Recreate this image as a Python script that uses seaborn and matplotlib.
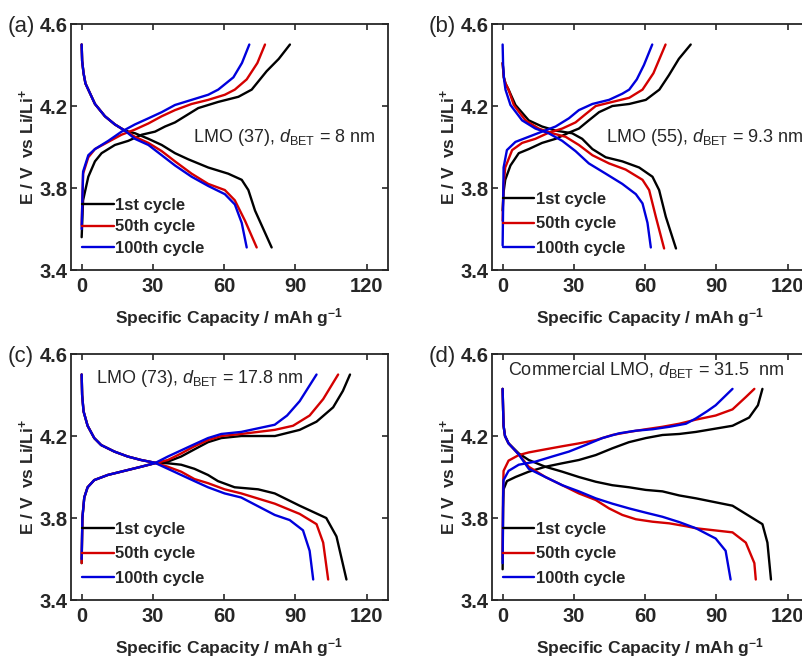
import seaborn as sns
import matplotlib.pyplot as plt
import pandas as pd
import numpy as np

# ---- data (capacity in mAh/g, potential in V) ----
cycles = ['1st cycle', '50th cycle', '100th cycle']
colors = ['#000000', '#d40000', '#0000dc']
panel_tags = ['(a)', '(b)', '(c)', '(d)']
panel_notes = [r'LMO (37), $d_{\rm BET}$ = 8 nm',
               r'LMO (55), $d_{\rm BET}$ = 9.3 nm',
               r'LMO (73), $d_{\rm BET}$ = 17.8 nm',
               r'Commercial LMO, $d_{\rm BET}$ = 31.5  nm']
x_ticks = [0, 30, 60, 90, 120]
y_ticks = [3.4, 3.8, 4.2, 4.6]

# panel (a)
a1_chg_q = [0, 0.6, 2.8, 5.6, 8.4, 14, 19.6, 25.3, 30.9, 35.1, 39.3, 43.5, 49.1, 57.5, 66, 71.6, 77.9, 83, 87.7]
a1_chg_v = [3.56, 3.74, 3.855, 3.93, 3.97, 4.01, 4.03, 4.06, 4.075, 4.10, 4.12, 4.15, 4.19, 4.22, 4.245, 4.28, 4.37, 4.43, 4.50]
a2_chg_q = [0, 0.6, 2.8, 5.6, 11.2, 16.8, 22.4, 28.1, 33.7, 39.3, 46.3, 53.3, 60.3, 64.5, 69.5, 74, 77.2]
a2_chg_v = [3.62, 3.87, 3.95, 3.99, 4.025, 4.06, 4.085, 4.115, 4.15, 4.18, 4.21, 4.23, 4.255, 4.28, 4.33, 4.41, 4.50]
a3_chg_q = [0, 0.6, 2.8, 5.6, 11.2, 16.8, 22.4, 28.1, 33.7, 39.3, 46.3, 53.3, 57.5, 63.9, 67.5, 70.6]
a3_chg_v = [3.60, 3.88, 3.96, 3.99, 4.03, 4.075, 4.11, 4.14, 4.17, 4.205, 4.23, 4.255, 4.28, 4.34, 4.41, 4.50]
a1_dis_q = [0, 0.2, 0.8, 1.6, 2.8, 5.6, 9.8, 14, 18.2, 22.5, 28.1, 33.7, 39.3, 44.9, 53.3, 61.7, 67.4, 70.2, 73, 80]
a1_dis_v = [4.50, 4.42, 4.36, 4.31, 4.28, 4.21, 4.15, 4.11, 4.08, 4.067, 4.04, 4.01, 3.97, 3.94, 3.90, 3.87, 3.84, 3.79, 3.69, 3.51]
a2_dis_q = [0, 0.2, 0.8, 1.6, 2.8, 5.6, 9.8, 14, 18.2, 22.4, 28.1, 33.7, 39.3, 46.3, 53.3, 60.3, 64.5, 68.8, 73.7]
a2_dis_v = [4.50, 4.42, 4.36, 4.31, 4.28, 4.21, 4.15, 4.11, 4.08, 4.05, 4.02, 3.98, 3.93, 3.87, 3.82, 3.79, 3.74, 3.64, 3.51]
a3_dis_q = [0, 0.2, 0.8, 1.6, 2.8, 5.6, 9.8, 14, 18.2, 22.4, 28.1, 33.7, 39.3, 46.3, 53.3, 60.3, 64.5, 67.4, 69.5]
a3_dis_v = [4.50, 4.42, 4.36, 4.31, 4.28, 4.21, 4.15, 4.11, 4.08, 4.04, 4.01, 3.96, 3.91, 3.855, 3.81, 3.77, 3.72, 3.63, 3.51]

# panel (b)
b1_chg_q = [0, 0.4, 1.1, 3.3, 6.8, 11, 16.6, 22.3, 27.9, 32.1, 36.3, 40.6, 46.2, 53.3, 60.3, 66, 70, 74.2, 79.2]
b1_chg_v = [3.69, 3.78, 3.84, 3.91, 3.97, 3.99, 4.02, 4.04, 4.07, 4.09, 4.13, 4.17, 4.20, 4.21, 4.23, 4.28, 4.35, 4.43, 4.50]
b2_chg_q = [0, 0.3, 1.1, 4, 8.2, 13.8, 19.4, 25.1, 30.7, 34.9, 39.2, 46.2, 53.3, 58.9, 63.5, 68.6]
b2_chg_v = [3.64, 3.80, 3.90, 3.985, 4.02, 4.04, 4.07, 4.09, 4.12, 4.16, 4.20, 4.22, 4.24, 4.28, 4.36, 4.50]
b3_chg_q = [0, 0.4, 1.8, 5.4, 11, 16.6, 22.3, 27.9, 32.1, 37.8, 44.8, 50.4, 53.3, 56.5, 59.5, 63]
b3_chg_v = [3.52, 3.90, 3.985, 4.025, 4.05, 4.075, 4.10, 4.14, 4.18, 4.21, 4.23, 4.26, 4.28, 4.33, 4.40, 4.50]
b1_dis_q = [0, 0.5, 1.2, 2.5, 5.4, 11, 16.6, 22.3, 29.3, 33.5, 37.8, 43.4, 50.4, 57.5, 63.1, 65.9, 68.7, 73]
b1_dis_v = [4.41, 4.34, 4.31, 4.28, 4.205, 4.13, 4.10, 4.08, 4.067, 4.04, 3.99, 3.95, 3.93, 3.90, 3.855, 3.79, 3.66, 3.505]
b2_dis_q = [0, 0.5, 1.2, 2.5, 4.7, 9.6, 15.2, 20.9, 26.5, 32.1, 37.8, 44.8, 51.8, 58.9, 61.7, 64.5, 68]
b2_dis_v = [4.41, 4.34, 4.31, 4.28, 4.205, 4.13, 4.09, 4.067, 4.05, 4.01, 3.96, 3.92, 3.89, 3.84, 3.79, 3.66, 3.505]
b3_dis_q = [0, 0.2, 0.6, 1.2, 3.3, 8.2, 13.8, 19.4, 25.1, 30.7, 36.3, 43.4, 50.4, 56.1, 58.9, 61, 62.4]
b3_dis_v = [4.50, 4.40, 4.33, 4.28, 4.205, 4.13, 4.09, 4.067, 4.03, 3.98, 3.92, 3.87, 3.82, 3.77, 3.725, 3.63, 3.51]

# panel (c)
c1_chg_q = [0, 0.3, 1.1, 2.5, 5.3, 11, 18, 25, 30.7, 36.3, 41.9, 47.5, 53.2, 58.8, 67.2, 81.4, 91.8, 98.9, 105.9, 110, 113]
c1_chg_v = [3.58, 3.80, 3.90, 3.95, 3.985, 4.01, 4.03, 4.05, 4.067, 4.075, 4.10, 4.135, 4.17, 4.19, 4.20, 4.20, 4.23, 4.27, 4.34, 4.42, 4.50]
c2_chg_q = [0, 0.3, 1.1, 2.5, 5.3, 11, 18, 25, 30.7, 36.3, 41.9, 47.5, 53.2, 58.8, 67.2, 81.3, 89, 96, 101.7, 108]
c2_chg_v = [3.58, 3.80, 3.90, 3.95, 3.985, 4.01, 4.03, 4.05, 4.067, 4.083, 4.115, 4.15, 4.18, 4.20, 4.21, 4.23, 4.25, 4.30, 4.38, 4.50]
c3_chg_q = [0, 0.3, 1.1, 2.5, 5.3, 11, 18, 25, 30.7, 36.3, 41.9, 47.5, 53.2, 58.8, 67.2, 81.3, 86.5, 91.8, 98.9]
c3_chg_v = [3.60, 3.80, 3.90, 3.95, 3.985, 4.01, 4.03, 4.05, 4.067, 4.10, 4.13, 4.16, 4.19, 4.21, 4.22, 4.255, 4.30, 4.37, 4.50]
c1_dis_q = [0, 0.2, 0.8, 2.5, 5.3, 8.2, 13.8, 19.4, 25, 30.7, 36.3, 41.9, 47.5, 53.2, 57.4, 64.4, 74.3, 81.3, 91.8, 103, 107.3, 111.5]
c1_dis_v = [4.50, 4.40, 4.32, 4.25, 4.19, 4.156, 4.124, 4.10, 4.083, 4.07, 4.067, 4.06, 4.04, 4.01, 3.98, 3.95, 3.94, 3.92, 3.86, 3.80, 3.71, 3.50]
c2_dis_q = [0, 0.2, 0.8, 2.5, 5.3, 8.2, 13.8, 19.4, 25, 30.7, 36.3, 41.9, 47.5, 53.2, 60.2, 67.2, 81.3, 91.8, 98.9, 101.7, 103.8]
c2_dis_v = [4.50, 4.40, 4.32, 4.25, 4.19, 4.156, 4.124, 4.10, 4.083, 4.07, 4.05, 4.026, 3.99, 3.97, 3.94, 3.92, 3.87, 3.82, 3.77, 3.68, 3.50]
c3_dis_q = [0, 0.2, 0.8, 2.5, 5.3, 8.2, 13.8, 19.4, 25, 30.7, 36.3, 41.9, 47.5, 53.2, 60.2, 67.2, 81.3, 87.6, 93.2, 96, 97.5]
c3_dis_v = [4.50, 4.40, 4.32, 4.25, 4.19, 4.156, 4.124, 4.10, 4.083, 4.07, 4.04, 4.01, 3.98, 3.95, 3.92, 3.90, 3.815, 3.79, 3.74, 3.64, 3.50]

# panel (d)
d1_chg_q = [0, 0.2, 0.4, 1.8, 5.4, 11, 18, 25.1, 32.1, 39.2, 46.2, 53.2, 60.3, 67.3, 74.4, 81.4, 96.8, 103.8, 107.5, 109.4]
d1_chg_v = [3.55, 3.85, 3.94, 3.98, 4.00, 4.026, 4.05, 4.067, 4.083, 4.107, 4.14, 4.17, 4.19, 4.205, 4.21, 4.22, 4.25, 4.29, 4.35, 4.43]
d2_chg_q = [0, 0.2, 0.4, 2.5, 6.8, 11, 18, 25.1, 32.1, 39.2, 46.2, 53.2, 60.3, 67.3, 74.4, 81.4, 89.7, 96.8, 102.4, 106]
d2_chg_v = [3.60, 3.95, 4.03, 4.08, 4.107, 4.12, 4.135, 4.15, 4.164, 4.18, 4.205, 4.22, 4.233, 4.245, 4.26, 4.28, 4.30, 4.33, 4.39, 4.43]
d3_chg_q = [0, 0.2, 0.4, 2.5, 6.8, 13.8, 20.9, 27.9, 34.9, 42, 49, 56.1, 63.1, 70.2, 77.2, 81.4, 86, 89.7, 96.8]
d3_chg_v = [3.58, 3.90, 3.985, 4.03, 4.06, 4.075, 4.10, 4.124, 4.156, 4.19, 4.213, 4.226, 4.233, 4.245, 4.26, 4.286, 4.32, 4.35, 4.43]
d1_dis_q = [0, 0.2, 0.4, 1, 2.5, 6.8, 11, 18, 25.1, 32.1, 39.2, 46.2, 53.2, 60.3, 67.3, 74.4, 81.4, 96.8, 103.8, 109.4, 111.5, 113]
d1_dis_v = [4.43, 4.33, 4.25, 4.20, 4.164, 4.115, 4.083, 4.05, 4.026, 4.00, 3.977, 3.96, 3.95, 3.937, 3.93, 3.91, 3.896, 3.86, 3.81, 3.77, 3.68, 3.50]
d2_dis_q = [0, 0.2, 0.4, 1, 2.5, 6.8, 11, 18, 25.1, 32.1, 39.2, 44.8, 50.4, 56.1, 63.1, 70.2, 77.2, 81.4, 96.8, 102.4, 106, 106.6]
d2_dis_v = [4.43, 4.33, 4.25, 4.20, 4.164, 4.11, 4.05, 4.00, 3.96, 3.92, 3.888, 3.847, 3.815, 3.794, 3.782, 3.774, 3.76, 3.75, 3.73, 3.68, 3.58, 3.50]
d3_dis_q = [0, 0.2, 0.4, 1, 2.5, 6.8, 11, 18, 25.1, 32.1, 39.2, 46.2, 53.2, 60.3, 67.3, 74.4, 81.4, 89.7, 93.9, 96]
d3_dis_v = [4.43, 4.33, 4.25, 4.20, 4.164, 4.11, 4.04, 4.00, 3.96, 3.93, 3.896, 3.87, 3.847, 3.826, 3.806, 3.78, 3.75, 3.70, 3.64, 3.50]

panels = [
    [(a1_chg_q, a1_chg_v, a1_dis_q, a1_dis_v), (a2_chg_q, a2_chg_v, a2_dis_q, a2_dis_v), (a3_chg_q, a3_chg_v, a3_dis_q, a3_dis_v)],
    [(b1_chg_q, b1_chg_v, b1_dis_q, b1_dis_v), (b2_chg_q, b2_chg_v, b2_dis_q, b2_dis_v), (b3_chg_q, b3_chg_v, b3_dis_q, b3_dis_v)],
    [(c1_chg_q, c1_chg_v, c1_dis_q, c1_dis_v), (c2_chg_q, c2_chg_v, c2_dis_q, c2_dis_v), (c3_chg_q, c3_chg_v, c3_dis_q, c3_dis_v)],
    [(d1_chg_q, d1_chg_v, d1_dis_q, d1_dis_v), (d2_chg_q, d2_chg_v, d2_dis_q, d2_dis_v), (d3_chg_q, d3_chg_v, d3_dis_q, d3_dis_v)],
]

sns.set_theme(style='ticks')
plt.rcParams['font.family'] = ['Liberation Sans', 'DejaVu Sans']
plt.rcParams['mathtext.fontset'] = 'custom'
plt.rcParams['mathtext.rm'] = 'Liberation Sans'
plt.rcParams['mathtext.it'] = 'Liberation Sans:italic'
plt.rcParams['mathtext.bf'] = 'Liberation Sans:bold'

fig = plt.figure(figsize=(8.02, 6.6), dpi=100)
W, H = 0.3956, 0.3727
boxes = [[0.0882, 0.5909, W, H], [0.6131, 0.5909, W, H],
         [0.0882, 0.0909, W, H], [0.6131, 0.0909, W, H]]
note_pos = [(0.384, 0.5215), (0.360, 0.5215), (0.079, 0.883), (0.052, 0.915)]
leg_space = [0.38, 0.56, 0.56, 0.56]
leg_y = [0.058, 0.058, 0.058, 0.058]

for i, box in enumerate(boxes):
    ax = fig.add_axes(box)
    for j, (cq, cv, dq, dv) in enumerate(panels[i]):
        sns.lineplot(x=cq, y=cv, sort=False, estimator=None, color=colors[j],
                     lw=1.7, label=cycles[j], ax=ax)
        sns.lineplot(x=dq, y=dv, sort=False, estimator=None, color=colors[j],
                     lw=1.7, ax=ax)
    ax.set_xlim(-4.6, 129)
    ax.set_ylim(3.4, 4.6)
    ax.set_xticks(x_ticks)
    ax.set_yticks(y_ticks)
    ax.set_xticklabels([str(t) for t in x_ticks], fontweight='bold', fontsize=14.5)
    ax.set_yticklabels([f'{t:.1f}' for t in y_ticks], fontweight='bold', fontsize=14.5)
    ax.tick_params(direction='in', length=4, width=1.2, top=True, right=True, color='#262626')
    ax.tick_params(axis='x', pad=5)
    ax.tick_params(axis='y', pad=2)
    for s in ax.spines.values():
        s.set_linewidth(1.3)
        s.set_color('#262626')
    ax.set_xlabel(r'Specific Capacity / mAh g$^{\mathbf{-1}}$', fontweight='bold', fontsize=12.5)
    ax.set_ylabel(r'E / V  vs Li/Li$^{\mathbf{+}}$', fontweight='bold', fontsize=12.5)
    ax.xaxis.set_label_coords(0.5, -0.145)
    ax.yaxis.set_label_coords(-0.107, 0.5)
    ax.text(note_pos[i][0], note_pos[i][1], panel_notes[i], transform=ax.transAxes,
            fontsize=13, ha='left', va='baseline')
    ax.text(-0.198, 0.99, panel_tags[i], transform=ax.transAxes, fontsize=16,
            ha='left', va='center')
    ax.legend(loc='lower left', bbox_to_anchor=(0.035, leg_y[i]), frameon=False,
              borderpad=0, borderaxespad=0, handlelength=1.9, handletextpad=0.1,
              labelspacing=leg_space[i], prop={'weight': 'bold', 'size': 12})

fig.savefig('out.png', dpi=100)
